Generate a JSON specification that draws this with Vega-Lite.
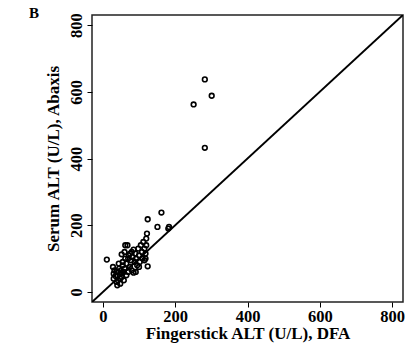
{
  "$schema": "https://vega.github.io/schema/vega-lite/v6.json",
  "autosize": "none",
  "width": 311,
  "height": 287,
  "padding": {"left": 92, "top": 15, "right": 4, "bottom": 45},
  "background": "white",
  "title": {"text": "B", "anchor": "start", "frame": "group", "orient": "top", "offset": -8, "dx": -63, "font": "Liberation Serif", "fontSize": 15, "fontWeight": "bold", "color": "black"},
  "config": {
    "view": {"stroke": "#222", "strokeWidth": 1.5},
    "axis": {
      "grid": false, "domain": false, "tickColor": "black", "tickSize": 5, "tickWidth": 1,
      "labelFont": "Liberation Serif", "labelFontSize": 16.5, "labelFontWeight": "bold", "labelColor": "black",
      "titleFont": "Liberation Serif", "titleFontSize": 17, "titleFontWeight": "bold", "titleColor": "black"
    }
  },
  "datasets": {
    "pts": [
      {"dfa": 282, "abaxis": 637}, {"dfa": 301, "abaxis": 588}, {"dfa": 251, "abaxis": 562}, {"dfa": 282, "abaxis": 432},
      {"dfa": 162, "abaxis": 238}, {"dfa": 124, "abaxis": 218}, {"dfa": 151, "abaxis": 195}, {"dfa": 183, "abaxis": 195},
      {"dfa": 181, "abaxis": 190}, {"dfa": 122, "abaxis": 175}, {"dfa": 11, "abaxis": 97}, {"dfa": 124, "abaxis": 77},
      {"dfa": 30, "abaxis": 40}, {"dfa": 30, "abaxis": 55}, {"dfa": 32, "abaxis": 65}, {"dfa": 28, "abaxis": 75},
      {"dfa": 35, "abaxis": 48}, {"dfa": 38, "abaxis": 30}, {"dfa": 40, "abaxis": 20}, {"dfa": 42, "abaxis": 35},
      {"dfa": 40, "abaxis": 50}, {"dfa": 42, "abaxis": 60}, {"dfa": 45, "abaxis": 70}, {"dfa": 44, "abaxis": 85},
      {"dfa": 48, "abaxis": 40}, {"dfa": 48, "abaxis": 25}, {"dfa": 50, "abaxis": 55}, {"dfa": 50, "abaxis": 65},
      {"dfa": 52, "abaxis": 45}, {"dfa": 52, "abaxis": 113}, {"dfa": 55, "abaxis": 80}, {"dfa": 55, "abaxis": 90},
      {"dfa": 58, "abaxis": 60}, {"dfa": 58, "abaxis": 35}, {"dfa": 60, "abaxis": 70}, {"dfa": 62, "abaxis": 100},
      {"dfa": 62, "abaxis": 140}, {"dfa": 65, "abaxis": 50}, {"dfa": 65, "abaxis": 85}, {"dfa": 68, "abaxis": 140},
      {"dfa": 70, "abaxis": 60}, {"dfa": 72, "abaxis": 110}, {"dfa": 75, "abaxis": 75}, {"dfa": 78, "abaxis": 95},
      {"dfa": 80, "abaxis": 120}, {"dfa": 80, "abaxis": 65}, {"dfa": 82, "abaxis": 105}, {"dfa": 85, "abaxis": 127},
      {"dfa": 85, "abaxis": 58}, {"dfa": 88, "abaxis": 90}, {"dfa": 90, "abaxis": 115}, {"dfa": 91, "abaxis": 60},
      {"dfa": 92, "abaxis": 100}, {"dfa": 95, "abaxis": 80}, {"dfa": 98, "abaxis": 130}, {"dfa": 100, "abaxis": 110},
      {"dfa": 102, "abaxis": 90}, {"dfa": 105, "abaxis": 140}, {"dfa": 108, "abaxis": 120}, {"dfa": 110, "abaxis": 100},
      {"dfa": 112, "abaxis": 150}, {"dfa": 115, "abaxis": 130}, {"dfa": 118, "abaxis": 115}, {"dfa": 120, "abaxis": 160},
      {"dfa": 120, "abaxis": 140}, {"dfa": 115, "abaxis": 95}, {"dfa": 100, "abaxis": 75}, {"dfa": 118, "abaxis": 100},
      {"dfa": 75, "abaxis": 115}, {"dfa": 70, "abaxis": 100}, {"dfa": 60, "abaxis": 120}, {"dfa": 38, "abaxis": 62}
    ],
    "diag": [{"v": -30}, {"v": 830}]
  },
  "encoding": {
    "x": {"type": "quantitative", "scale": {"domain": [-30, 830], "nice": false, "zero": false},
          "axis": {"values": [0, 200, 400, 600, 800], "title": "Fingerstick ALT (U/L), DFA", "labelPadding": 1, "titlePadding": 1}},
    "y": {"type": "quantitative", "scale": {"domain": [-30, 830], "nice": false, "zero": false},
          "axis": {"values": [0, 200, 400, 600, 800], "title": "Serum ALT (U/L), Abaxis", "labelAngle": -90, "labelAlign": "center", "labelBaseline": "bottom", "labelPadding": 3, "titlePadding": 6}}
  },
  "layer": [
    {
      "data": {"name": "diag"},
      "mark": {"type": "line", "color": "black", "strokeWidth": 2, "clip": true},
      "encoding": {"x": {"field": "v", "type": "quantitative"}, "y": {"field": "v", "type": "quantitative"}}
    },
    {
      "data": {"name": "pts"},
      "mark": {"type": "point", "shape": "circle", "filled": false, "color": "black", "strokeWidth": 1.6, "size": 22, "opacity": 1},
      "encoding": {"x": {"field": "dfa", "type": "quantitative"}, "y": {"field": "abaxis", "type": "quantitative"}}
    }
  ]
}
